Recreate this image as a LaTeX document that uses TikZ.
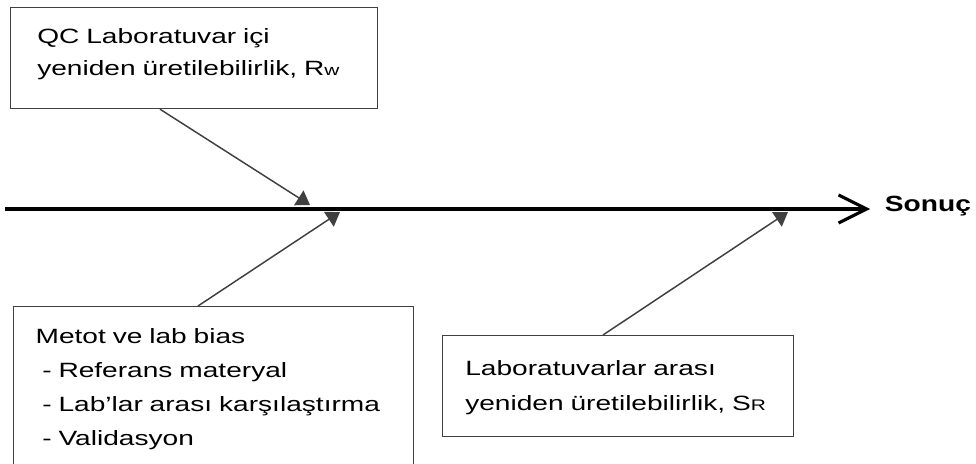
\documentclass[tikz,border=0pt]{standalone}
\usepackage{fontspec}
\setmainfont[FakeStretch=1.36]{Liberation Sans}
\newfontfamily\resultfont[FakeStretch=1.28]{Liberation Sans}
\usepackage{tikz}
\usetikzlibrary{positioning,arrows.meta,calc}

\begin{document}
\begin{tikzpicture}[
  x=0.75pt, y=-0.75pt,
  causebox/.style={draw=black!75, line width=0.9pt, anchor=north west, align=left, inner ysep=0pt},
  spine/.style={line width=2.3pt, -{Straight Barb[length=21pt, width=21pt]}},
  cause/.style={draw=black!75, line width=1.1pt, -{Triangle[length=10pt, width=13pt]}},
  every node/.style={font=\fontsize{15.5}{24}\selectfont},
]
  \useasboundingbox (0,0) rectangle (976,464);
  % cause boxes
  \node[causebox, inner xsep=20pt, text width=235pt, text height=27pt, text depth=48.75pt] (rwbox) at (10,7)
    {QC Laboratuvar içi\\yeniden üretilebilirlik, R{\fontsize{11.5}{11.5}\selectfont w}};
  \node[causebox, inner xsep=16.5pt, text width=267pt, text height=27.75pt, text depth=96.75pt,
        font=\fontsize{15.5}{25.5}\selectfont] (biasbox) at (13,306)
    {Metot ve lab bias\\\hspace*{5pt}- Referans materyal\\\hspace*{5pt}- Lab'lar arası karşılaştırma\\\hspace*{5pt}- Validasyon};
  \node[causebox, inner xsep=17pt, text width=229pt, text height=30pt, text depth=45.75pt,
        font=\fontsize{15.5}{26}\selectfont] (srbox) at (442,335)
    {Laboratuvarlar arası\\yeniden üretilebilirlik, S{\fontsize{11.5}{11.5}\selectfont R}};
  % effect
  \node[anchor=base west, inner xsep=11pt, font=\fontsize{16.5}{20}\resultfont\bfseries] (result) at (870,211) {Sonuç};
  \coordinate (spinestart) at (5,209);
  \coordinate (rwhit) at (310,205);
  \coordinate (biashit) at (340,212);
  \coordinate (srhit) at (788,212);
  \draw[spine] (spinestart) -- (spinestart -| result.west);
  \draw[cause] ($(rwbox.south west)+(150,0)$) -- (rwhit);
  \draw[cause] ($(biasbox.north west)+(185,0)$) -- (biashit);
  \draw[cause] ($(srbox.north west)+(161,0)$) -- (srhit);
\end{tikzpicture}
\end{document}
